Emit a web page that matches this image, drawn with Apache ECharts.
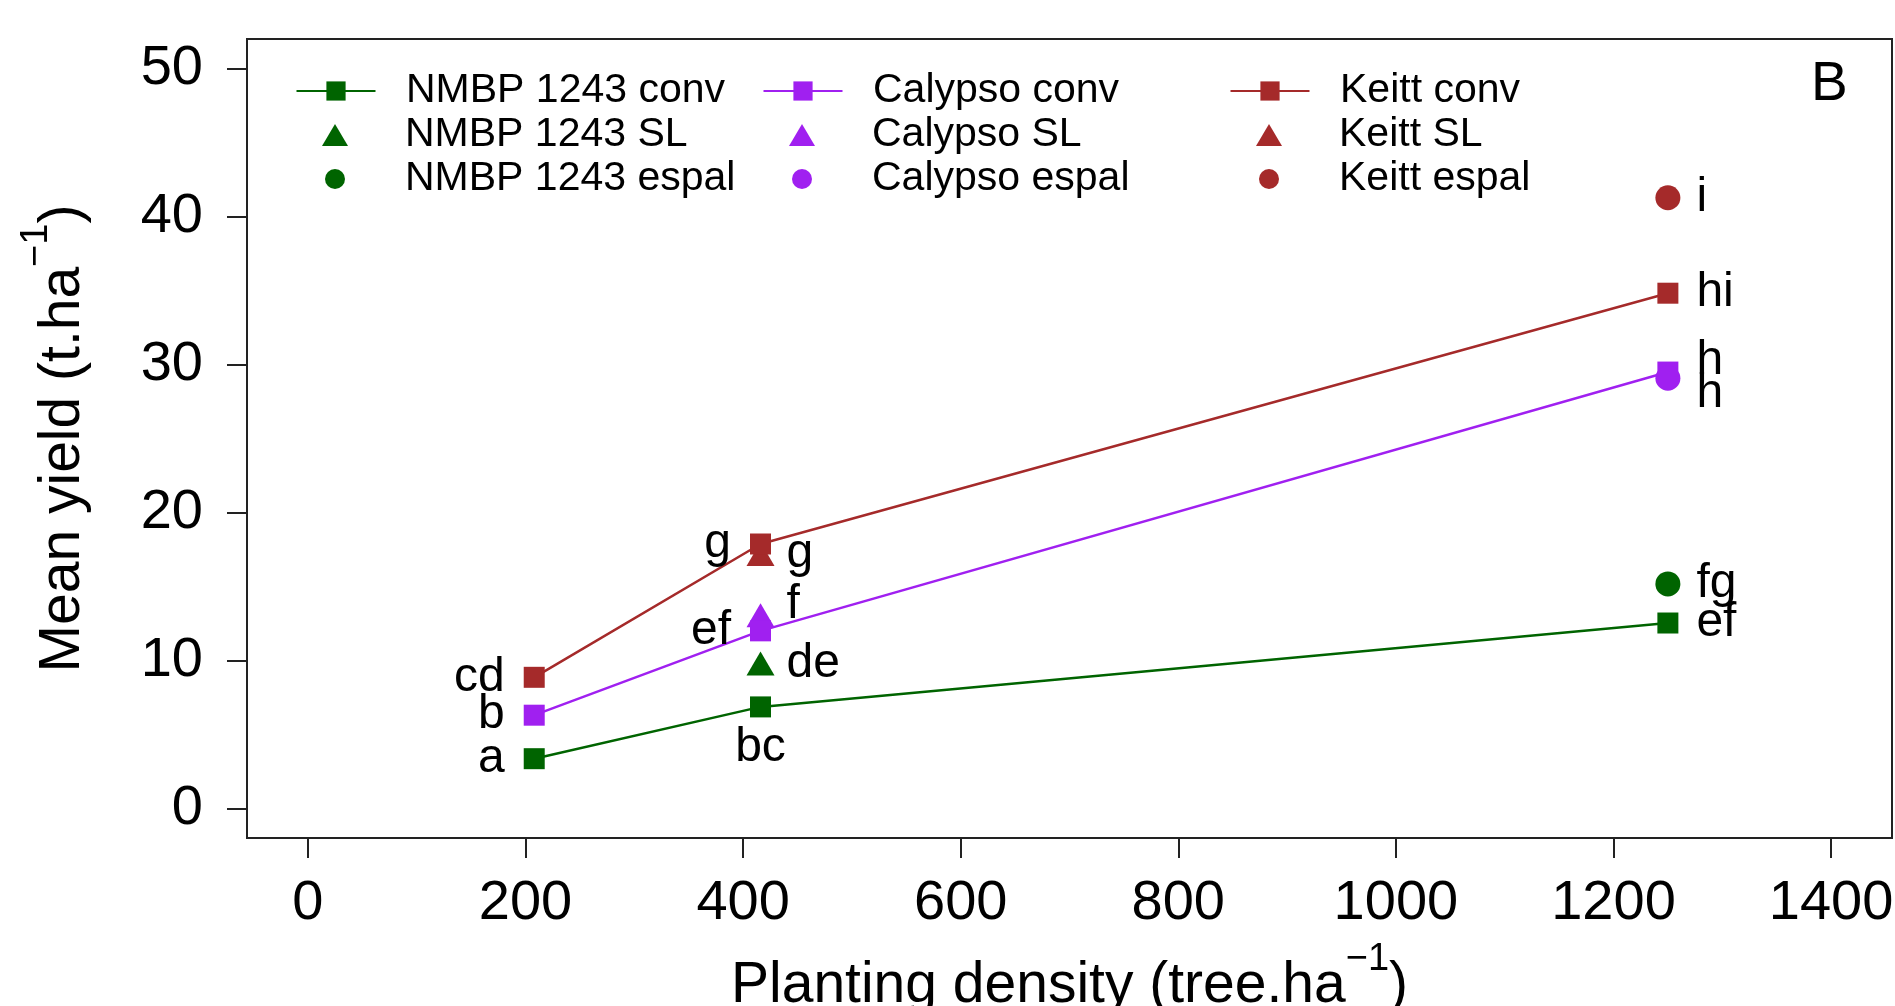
<!DOCTYPE html>
<html>
<head>
<meta charset="utf-8">
<script src="https://cdn.jsdelivr.net/npm/echarts@6/dist/echarts.min.js"></script>
<style>
html,body{margin:0;padding:0;background:#fff;}
#chart{width:1895px;height:1006px;}
</style>
</head>
<body>
<div id="chart"></div>
<script>
// ---- data ----
const densities = [208, 416, 1250];
const xTicks = [0, 200, 400, 600, 800, 1000, 1200, 1400];
const yTicks = [0, 10, 20, 30, 40, 50];

const nmbpConv = [3.36, 6.86, 12.53];
const calypsoConv = [6.30, 12.0, 29.49];
const keittConv = [8.86, 17.87, 34.82];

const slDensity = 416;
const nmbpSL = 9.8;
const calypsoSL = 13.05;
const keittSL = 17.2;

const espalDensity = 1250;
const nmbpEspal = 15.17;
const calypsoEspal = 29.07;
const keittEspal = 41.27;

const nmbpConvLetters = ['a', 'bc', 'ef'];
const calypsoConvLetters = ['b', 'ef', 'h'];
const keittConvLetters = ['cd', 'g', 'hi'];
const slLetters = ['de', 'f', 'g'];        // NMBP, Calypso, Keitt
const espalLetters = ['fg', 'h', 'i'];     // NMBP, Calypso, Keitt

const seriesNames = [
  'NMBP 1243 conv', 'NMBP 1243 SL', 'NMBP 1243 espal',
  'Calypso conv', 'Calypso SL', 'Calypso espal',
  'Keitt conv', 'Keitt SL', 'Keitt espal'
];

// ---- styles ----
const GREEN = '#006400', PURPLE = '#A020F0', BROWN = '#A52A2A';
const FONT = 'Liberation Sans, Arial, sans-serif';
const LBL = 48;

function lab(text, pos, dist, dy) {
  return {show: true, formatter: text, position: pos, distance: dist,
          offset: [0, dy || 0], color: '#000', fontSize: LBL, fontFamily: FONT};
}

function convData(vals, letters, positions, offs) {
  return vals.map((v, i) => ({
    value: [densities[i], v],
    label: lab(letters[i], positions[i], positions[i] === 'bottom' ? 6 : (positions[i] === 'left' ? 19 : 18), offs[i])
  }));
}

function lineSeries(name, color, vals, letters, positions, offs) {
  return {
    name, type: 'line', data: convData(vals, letters, positions, offs),
    symbol: 'rect', symbolSize: 21,
    lineStyle: {color, width: 2.5}, itemStyle: {color},
    z: 3
  };
}
function triSeries(name, color, v, letter, dy) {
  return {
    name, type: 'scatter', symbol: 'triangle', symbolSize: [28, 24],
    itemStyle: {color, opacity: 1},
    data: [{value: [slDensity, v], label: lab(letter, 'right', 12, dy)}], z: 2
  };
}
function circSeries(name, color, v, letter, dy) {
  return {
    name, type: 'scatter', symbol: 'circle', symbolSize: 25,
    itemStyle: {color, opacity: 1},
    data: [{value: [espalDensity, v], label: lab(letter, 'right', 16, dy)}], z: 4
  };
}

const series = [
  lineSeries(seriesNames[0], GREEN, nmbpConv, nmbpConvLetters, ['left', 'bottom', 'right'], [0, 0, 0]),
  triSeries(seriesNames[1], GREEN, nmbpSL, slLetters[0], 0),
  circSeries(seriesNames[2], GREEN, nmbpEspal, espalLetters[0], 0),
  lineSeries(seriesNames[3], PURPLE, calypsoConv, calypsoConvLetters, ['left', 'left', 'right'], [0, 0, -11]),
  triSeries(seriesNames[4], PURPLE, calypsoSL, slLetters[1], -11),
  circSeries(seriesNames[5], PURPLE, calypsoEspal, espalLetters[1], 15),
  lineSeries(seriesNames[6], BROWN, keittConv, keittConvLetters, ['left', 'left', 'right'], [0, 0, 0]),
  triSeries(seriesNames[7], BROWN, keittSL, slLetters[2], 0),
  circSeries(seriesNames[8], BROWN, keittEspal, espalLetters[2], 0)
];

// legend: 3 columns x 3 rows, one component per entry so icons can differ in size
const LEG_ICON_CX = 335, LEG_TEXT_X = 405, LEG_COL_DX = 467;
const LEG_ROWS = [88, 132, 176];
const LEG_ICONS = [
  {w: 79, h: 24, icon: undefined},
  {w: 26, h: 22, icon: 'triangle'},
  {w: 20, h: 20, icon: 'circle'}
];
const legends = [];
for (let c = 0; c < 3; c++) {
  for (let r = 0; r < 3; r++) {
    const ic = LEG_ICONS[r];
    const left = LEG_ICON_CX + c * LEG_COL_DX - ic.w / 2;
    const pad = LEG_TEXT_X + c * LEG_COL_DX - (left + ic.w + 5);
    const item = {name: seriesNames[c * 3 + r]};
    if (ic.icon) item.icon = ic.icon;
    legends.push({
      orient: 'vertical', left: left, top: LEG_ROWS[r] - 19, padding: 0,
      itemWidth: ic.w, itemHeight: ic.h, itemGap: 0,
      data: [item], selectedMode: false,
      textStyle: {fontSize: 41, fontFamily: FONT, color: '#000', lineHeight: 44, padding: [0, 0, 0, pad]}
    });
  }
}

const axisCommon = {
  axisLine: {show: true, onZero: false, lineStyle: {color: '#222', width: 2}},
  splitLine: {show: false},
  axisTick: {show: true, inside: false, length: 20, lineStyle: {color: '#222', width: 2}}
};
const plain = v => String(v);

const chart = echarts.init(document.getElementById('chart'), null, {renderer: 'canvas'});
chart.setOption({
  backgroundColor: '#fff',
  animation: false,
  textStyle: {fontFamily: FONT},
  grid: {left: 247, right: 3, top: 39, height: 799, show: true, borderColor: '#222', borderWidth: 2,
         containLabel: false, outerBoundsMode: 'none'},
  legend: legends,
  xAxis: Object.assign({}, axisCommon, {
    type: 'value', min: -56, max: 1456,
    axisTick: Object.assign({}, axisCommon.axisTick, {customValues: xTicks}),
    axisLabel: {customValues: xTicks, formatter: plain, fontSize: 56, color: '#000', margin: 38, fontFamily: FONT},
    name: '{m|Planting density (tree.ha}{s|−1}{m|)}',
    nameLocation: 'middle', nameGap: 120,
    nameTextStyle: {
      rich: {
        m: {fontSize: 57, lineHeight: 57, verticalAlign: 'bottom', color: '#000', fontFamily: FONT},
        s: {fontSize: 38, lineHeight: 38, verticalAlign: 'bottom', padding: [0, 0, 36, 0], color: '#000', fontFamily: FONT}
      }
    }
  }),
  yAxis: Object.assign({}, axisCommon, {
    type: 'value', min: -2, max: 52,
    axisTick: Object.assign({}, axisCommon.axisTick, {customValues: yTicks}),
    axisLabel: {customValues: yTicks, formatter: plain, fontSize: 56, color: '#000', margin: 44, fontFamily: FONT},
    name: '{m|Mean yield (t.ha}{s|−1}{m|)}',
    nameLocation: 'middle', nameGap: 155,
    nameTextStyle: {
      rich: {
        m: {fontSize: 57, lineHeight: 57, verticalAlign: 'bottom', color: '#000', fontFamily: FONT},
        s: {fontSize: 38, lineHeight: 38, verticalAlign: 'bottom', padding: [0, 0, 36, 0], color: '#000', fontFamily: FONT}
      }
    }
  }),
  graphic: [{
    type: 'text', left: 1811, top: 57,
    style: {text: 'B', fontSize: 55, fill: '#000', fontFamily: FONT}
  }],
  series: series
});
</script>
</body>
</html>
